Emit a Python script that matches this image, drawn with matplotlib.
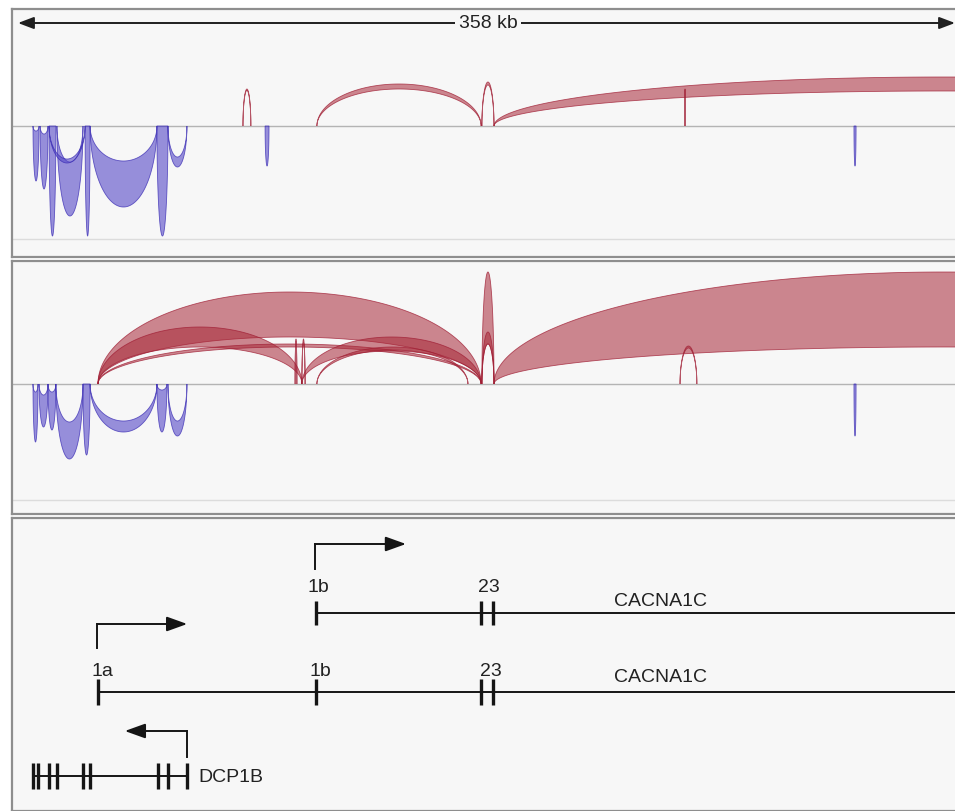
import numpy as np
import matplotlib
matplotlib.use("Agg")
import matplotlib.pyplot as plt
from matplotlib.patches import Polygon, FancyArrowPatch, ArrowStyle

plt.rcParams['font.family'] = ['Liberation Sans', 'DejaVu Sans']

# ---------------- data (genomic positions in kb) ----------------
REGION_KB = 358
ruler_label = "358 kb"

# sample 1 : + strand junctions (red, above)
s1_plus_start = [87.4, 115.5, 178.2, 182.8, 255.2]
s1_plus_end   = [90.4, 177.9, 182.8, 524.8, 255.6]
s1_plus_depth = [37, 42, 44, 49, 37]
s1_plus_width = [1.5, 5, 3, 14, 1]
# sample 1 : - strand junctions (blue, below)
s1_minus_start = [7.6, 10.3, 13.7, 16.7, 13.7, 27.4, 29.3, 54.7, 58.9, 95.8, 319.6]
s1_minus_end   = [9.9, 13.3, 16.3, 26.6, 27.4, 29.3, 54.7, 58.9, 66.1, 97.3, 320.4]
s1_minus_depth = [55, 63, 110, 90, 37, 110, 81, 110, 41, 40, 40]
s1_minus_width = [50, 55, 110, 54, 4, 110, 46, 110, 10, 40, 40]

# sample 2 : + strand junctions
s2_plus_start = [32.3, 32.3, 32.3, 107.2, 109.8, 109.8, 115.5, 178.2, 178.2, 182.8, 253.5]
s2_plus_end   = [177.9, 109.8, 177.9, 107.9, 111.0, 177.9, 172.9, 182.8, 182.8, 524.8, 259.9]
s2_plus_depth = [92, 57, 40, 45, 45, 47, 37, 112, 52, 112, 38]
s2_plus_width = [45, 20, 3, 3, 4, 14, 3, 72, 12, 75, 2]
# sample 2 : - strand junctions
s2_minus_start = [7.6, 9.9, 13.3, 16.3, 26.6, 29.3, 54.7, 58.9, 319.6]
s2_minus_end   = [9.5, 13.3, 16.3, 26.6, 29.3, 54.7, 58.5, 66.1, 320.4]
s2_minus_depth = [58, 43, 46, 75, 71, 48, 48, 52, 52]
s2_minus_width = [50, 32, 38, 37, 71, 11, 42, 15, 52]

# gene models
cac_1b_exons = [115.15, 177.86, 182.42]
cac_1b_label_text = ['1b', '23']
cac_1b_label_exons = [[0], [1, 2]]
cac_1a_exons = [32.3, 115.15, 177.86, 182.42]
cac_1a_label_text = ['1a', '1b', '23']
cac_1a_label_exons = [[0], [1], [2, 3]]
cac_name = 'CACNA1C'
cac_name_pos = 228.4
dcp_exons = [7.6, 9.5, 13.7, 16.7, 26.6, 29.3, 55.1, 58.9, 66.1]
dcp_name = 'DCP1B'

# ---------------- layout ----------------
W, H = 955, 812
fig = plt.figure(figsize=(W / 100, H / 100), dpi=100, facecolor='white')
PX_LEFT, PX_KB0 = 12, 13
kb_per_px = REGION_KB / (W - PX_KB0)
xlim = ((PX_LEFT - PX_KB0) * kb_per_px, REGION_KB)
BG = '#f7f7f7'
FRAME = '#8e8e8e'


def make_ax(top, bottom):
    ax = fig.add_axes([PX_LEFT / W, 1 - bottom / H, (W - PX_LEFT) / W, (bottom - top) / H])
    ax.set_facecolor(BG)
    ax.set_xlim(*xlim)
    ax.set_xticks([]); ax.set_yticks([])
    for side in ['left', 'top', 'bottom']:
        ax.spines[side].set_color(FRAME)
        ax.spines[side].set_linewidth(1.6)
    ax.spines['right'].set_visible(False)
    return ax


RED_FC, RED_EC = '#a82838', '#a01e34'
BLUE_FC, BLUE_EC = '#5548c8', '#3a2cb4'


def draw_arc(ax, s, e, h, t, sign, fc, ec, alpha):
    th = np.linspace(0, np.pi, 400)
    xs = s + (e - s) * (1 - np.cos(th)) / 2
    outer = h * np.sin(th)
    inner = max(h - t, 0) * np.sin(th)
    pts = np.concatenate([np.column_stack([xs, sign * outer]),
                          np.column_stack([xs[::-1], sign * inner[::-1]])])
    ax.add_patch(Polygon(pts, closed=True, facecolor=fc, alpha=alpha, edgecolor='none', zorder=3))
    ax.add_patch(Polygon(pts, closed=True, facecolor='none', edgecolor=ec, lw=0.6, alpha=0.75, zorder=3))


def sashimi(ax, base_px, top_px, bottom_px, line_px, plus, minus):
    ax.set_ylim(base_px - bottom_px, base_px - top_px)
    ax.axhline(0, color='#b4b4b4', lw=1.0, zorder=2)
    ax.axhline(base_px - line_px, color='#dcdcdc', lw=1.0, zorder=2)
    for s, e, h, t in zip(*plus):
        draw_arc(ax, s, e, h, t, 1, RED_FC, RED_EC, 0.55)
    for s, e, h, t in zip(*minus):
        draw_arc(ax, s, e, h, t, -1, BLUE_FC, BLUE_EC, 0.6)


# panel 1
ax1 = make_ax(10, 258)
sashimi(ax1, 127, 10, 258, 240,
        (s1_plus_start, s1_plus_end, s1_plus_depth, s1_plus_width),
        (s1_minus_start, s1_minus_end, s1_minus_depth, s1_minus_width))
ruler_y = 127 - 24
ax1.add_patch(FancyArrowPatch((xlim[0] + 6 * kb_per_px, ruler_y), (REGION_KB, ruler_y),
                              arrowstyle=ArrowStyle('<|-|>', head_length=0.95, head_width=0.36),
                              mutation_scale=10, lw=1.4, color='#202020', shrinkA=0, shrinkB=0, zorder=4))
ax1.text(REGION_KB / 2 + 1.5, ruler_y, ruler_label, ha='center', va='center', fontsize=14, color='#222222',
         zorder=5, bbox=dict(facecolor=BG, edgecolor='none', pad=2.5))

# panel 2
ax2 = make_ax(262, 515)
sashimi(ax2, 385, 262, 515, 501,
        (s2_plus_start, s2_plus_end, s2_plus_depth, s2_plus_width),
        (s2_minus_start, s2_minus_end, s2_minus_depth, s2_minus_width))

# panel 3 : gene models (y in pixel rows)
ax3 = make_ax(519, 812)
ax3.set_ylim(812, 519)
INK = '#151515'
TICK_LW = 2.4


def transcript(ax, exons, label_text, label_exons, line_y, tick_half, label_y, label_dx, x_end,
               name, name_x, name_y, arrow_from, arrow_top, arrow_len, arrow_base):
    ax.plot([exons[0], x_end], [line_y, line_y], color=INK, lw=1.4, solid_capstyle='butt', zorder=3)
    ax.vlines(exons, line_y - tick_half, line_y + tick_half, color=INK, lw=TICK_LW, zorder=3)
    for lab, idx in zip(label_text, label_exons):
        x = float(np.mean([exons[i] for i in idx]))
        ax.text(x + label_dx, label_y, lab, ha='center', va='center', fontsize=14, color='#222222')
    ax.text(name_x, name_y, name, ha='left', va='center', fontsize=14, color='#222222')
    ax.plot([arrow_from, arrow_from], [arrow_base, arrow_top], color=INK, lw=1.4, zorder=3)
    ax.add_patch(FancyArrowPatch((arrow_from, arrow_top), (arrow_from + arrow_len, arrow_top),
                                 arrowstyle=ArrowStyle('-|>', head_length=1.25, head_width=0.45),
                                 mutation_scale=10, lw=1.4, color=INK, shrinkA=0, shrinkB=0, zorder=3))


transcript(ax3, cac_1b_exons, cac_1b_label_text, cac_1b_label_exons, 614, 12, 588, 0.8, REGION_KB + 5,
           cac_name, cac_name_pos, 601, cac_1b_exons[0] - 0.4, 545, 34.6, 570)
transcript(ax3, cac_1a_exons, cac_1a_label_text, cac_1a_label_exons, 693, 13, 671, 1.6, REGION_KB + 5,
           cac_name, cac_name_pos, 677, cac_1a_exons[0] - 0.3, 625, 34.2, 649)
transcript(ax3, dcp_exons, [], [], 777, 13, 0, 0, dcp_exons[-1],
           dcp_name, dcp_exons[-1] + 4.2, 778, dcp_exons[-1], 732, -23.6, 758)

fig.savefig('out.png', dpi=100, facecolor='white')
